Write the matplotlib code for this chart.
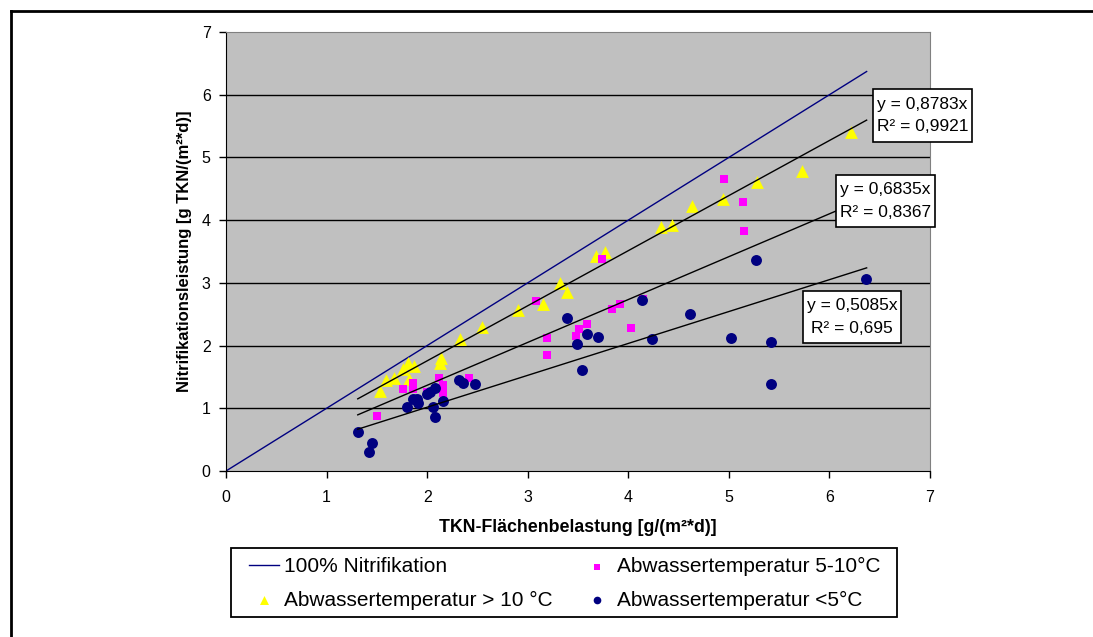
import matplotlib
matplotlib.use("Agg")
import matplotlib.pyplot as plt
from matplotlib.lines import Line2D
from matplotlib.patches import Rectangle

plt.rcParams['font.family'] = ['Liberation Sans', 'DejaVu Sans']

# Abwassertemperatur > 10 °C
warm_x = [1.53, 1.59, 1.67, 1.76, 1.81, 1.87, 1.82, 2.13, 2.14, 2.33, 2.55, 2.90,
          3.15, 3.32, 3.39, 3.68, 3.77, 4.33, 4.43, 4.63, 4.94, 5.28, 5.73, 6.21]
warm_y = [1.28, 1.45, 1.48, 1.63, 1.72, 1.67, 1.47, 1.73, 1.80, 2.11, 2.30, 2.57,
          2.66, 3.00, 2.85, 3.43, 3.49, 3.89, 3.92, 4.23, 4.34, 4.61, 4.78, 5.41]

# Abwassertemperatur 5-10°C
mid_x = [1.50, 1.76, 1.86, 1.86, 2.00, 2.12, 2.16, 2.16, 2.42, 3.08, 3.19, 3.19,
         3.48, 3.51, 3.59, 3.74, 3.84, 3.92, 4.03, 4.15, 4.95, 5.14, 5.15]
mid_y = [0.88, 1.31, 1.40, 1.31, 1.26, 1.48, 1.37, 1.24, 1.48, 2.71, 2.12, 1.85,
         2.15, 2.26, 2.34, 3.38, 2.58, 2.66, 2.28, 2.74, 4.66, 4.29, 3.83]

# Abwassertemperatur <5°C
cold_x = [1.31, 1.45, 1.42, 1.80, 1.86, 1.90, 1.91, 2.00, 2.03, 2.08, 2.06, 2.08,
          2.16, 2.32, 2.36, 2.48, 3.39, 3.49, 3.59, 3.70, 3.54, 4.14, 4.24, 4.61,
          5.02, 5.27, 5.42, 5.42, 6.36]
cold_y = [0.62, 0.45, 0.30, 1.02, 1.15, 1.15, 1.08, 1.23, 1.26, 1.32, 1.02, 0.86,
          1.12, 1.45, 1.40, 1.39, 2.44, 2.03, 2.19, 2.14, 1.61, 2.73, 2.11, 2.50,
          2.12, 3.37, 2.06, 1.39, 3.06]

# 100% Nitrifikation
full_x = [0, 6.37]
full_y = [0, 6.37]

# trendlines (through origin)
trend_slopes = [0.8783, 0.6835, 0.5085]
trend_r2 = ["0,9921", "0,8367", "0,695"]
trend_labels = ["0,8783", "0,6835", "0,5085"]
trend_range = [1.31, 6.37]

W, H = 1093, 637
fig = plt.figure(figsize=(W/100, H/100), dpi=100)
ax = fig.add_axes([226/W, 1-471/H, 704/W, 439/H])
ax.set_facecolor('#C0C0C0')

for yv in range(1, 7):
    ax.axhline(yv, color='black', lw=1.0, zorder=1)

ax.plot(full_x, full_y, color='#000080', lw=1.0, zorder=2, label='100% Nitrifikation')

ax.scatter(warm_x, warm_y, marker='^', s=85, color='#FFFF00', zorder=3,
           label='Abwassertemperatur > 10 °C', linewidths=0)
ax.scatter(mid_x, mid_y, marker='s', s=38, color='#FF00FF', zorder=3,
           label='Abwassertemperatur 5-10°C', linewidths=0)
ax.scatter(cold_x, cold_y, marker='o', s=62, color='#000080', zorder=3,
           label='Abwassertemperatur <5°C', linewidths=0)

for k in trend_slopes:
    ax.plot(trend_range, [k * trend_range[0], k * trend_range[1]],
            color='black', lw=1.0, zorder=4)

# equation boxes (left, top, right, bottom in pixels)
boxes = [(873, 89, 972, 142), (836, 175, 935, 227), (803, 291, 901, 343)]
for (x0, y0, x1, y1), lab, r2 in zip(boxes, trend_labels, trend_r2):
    fig.add_artist(Rectangle((x0/W, 1-y1/H), (x1-x0)/W, (y1-y0)/H,
                             facecolor='white', edgecolor='black', lw=1.2, zorder=10))
    cx = (x0 + x1) / 2 / W
    cy = 1 - (y0 + y1) / 2 / H
    fig.text(cx, cy, "y = " + lab + "x\nR² = " + r2, ha='center', va='center',
             fontsize=12.5, multialignment='center', linespacing=1.65, zorder=11)

ax.set_xlim(0, 7)
ax.set_ylim(0, 7)
ax.set_xticks(range(0, 8))
ax.set_yticks(range(0, 8))
ax.tick_params(direction='out', length=5, width=1, labelsize=11.5)
ax.tick_params(axis='x', pad=9)
ax.tick_params(axis='y', pad=6)
for s in ['top', 'right']:
    ax.spines[s].set_color('#808080')
for s in ['left', 'bottom']:
    ax.spines[s].set_color('black')

ax.set_xlabel("TKN-Flächenbelastung [g/(m²*d)]", fontsize=12.8, fontweight='bold', labelpad=10)
ax.set_ylabel("Nitrifikationsleistung [g TKN/(m²*d)]", fontsize=12, fontweight='bold', labelpad=7)

# legend: frame drawn separately, entries spread over the inner width
fig.add_artist(Rectangle((231/W, 1-617/H), 666/W, 69/H, facecolor='white',
                         edgecolor='black', lw=1.3, zorder=5))
handles, labels = ax.get_legend_handles_labels()
leg = fig.legend(handles, labels, loc='center left', ncol=2, mode='expand',
                 borderaxespad=0, borderpad=0,
                 bbox_to_anchor=(249/W, 1-583.5/H, 632/W, 0),
                 fontsize=15, frameon=False, handlelength=1.45, handletextpad=0.25,
                 labelspacing=0.68, markerscale=0.7)
leg.set_zorder(6)

# outer chart border (only top and left are inside the picture)
fig.add_artist(Line2D([11/W, 1], [1-11/H, 1-11/H], color='black', lw=2))
fig.add_artist(Line2D([11/W, 11/W], [0, 1-11/H], color='black', lw=2))

fig.savefig('out.png', dpi=100)
